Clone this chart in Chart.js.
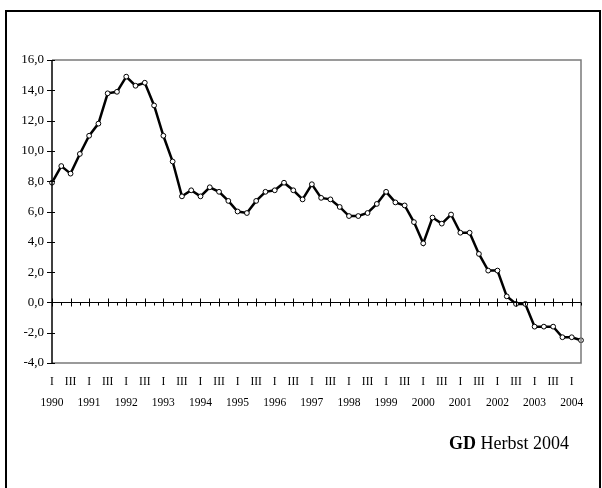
<!DOCTYPE html>
<html>
<head>
<meta charset="utf-8">
<script src="https://cdn.jsdelivr.net/npm/chart.js@4.4.1/dist/chart.umd.min.js"></script>
<style>
  body { margin: 0; width: 602px; height: 488px; overflow: hidden; background: #fff; position: relative; }
  #frame { position: absolute; left: 5px; top: 10px; width: 592px; height: 600px; border: 2px solid #000; }
  #chartBox { position: absolute; left: 0; top: 0; width: 602px; height: 488px; }
  #source { position: absolute; right: 33px; top: 433px; font-family: "Liberation Serif", serif; font-size: 18px; color: #000; }
</style>
</head>
<body>
<div id="frame"></div>
<div id="chartBox"><canvas id="lineChart"></canvas></div>
<div id="source"><b>GD</b> Herbst 2004</div>
<script>
const years = ["1990", "1991", "1992", "1993", "1994", "1995", "1996", "1997",
  "1998", "1999", "2000", "2001", "2002", "2003", "2004"];
const quarterNames = ["I", "", "III", ""];
const values = [
  7.9, 9.0, 8.5, 9.8, 11.0, 11.8, 13.8, 13.9, 14.9, 14.3,
  14.5, 13.0, 11.0, 9.3, 7.0, 7.4, 7.0, 7.6, 7.3, 6.7,
  6.0, 5.9, 6.7, 7.3, 7.4, 7.9, 7.4, 6.8, 7.8, 6.9,
  6.8, 6.3, 5.7, 5.7, 5.9, 6.5, 7.3, 6.6, 6.4, 5.3,
  3.9, 5.6, 5.2, 5.8, 4.6, 4.6, 3.2, 2.1, 2.1, 0.4,
  -0.1, -0.1, -1.6, -1.6, -1.6, -2.3, -2.3, -2.5,
];
const yMin = -4;
const yMax = 16;
const yStep = 2;

const labels = values.map((v, i) => {
  const q = i % 4;
  const year = years[Math.floor(i / 4)];
  return [quarterNames[q], q === 0 ? year : ""];
});

const serif = "'Liberation Serif', 'Times New Roman', serif";

// frame of the plot, the zero line and the little tick marks
const axisDecor = {
  id: "axisDecor",
  afterDatasetsDraw(chart) {
    const { ctx, chartArea: a, scales } = chart;
    const x = scales.x;
    const y = scales.y;
    ctx.save();
    ctx.lineCap = "butt";

    ctx.strokeStyle = "#7a7a7a";
    ctx.lineWidth = 1.5;
    ctx.beginPath();
    ctx.moveTo(a.left, a.top);
    ctx.lineTo(a.right, a.top);
    ctx.lineTo(a.right, a.bottom);
    ctx.lineTo(a.left, a.bottom);
    ctx.stroke();

    ctx.strokeStyle = "#000";
    ctx.lineWidth = 1.5;
    ctx.beginPath();
    ctx.moveTo(a.left, a.top);
    ctx.lineTo(a.left, a.bottom);
    ctx.stroke();

    ctx.lineWidth = 1;
    for (let v = yMin; v <= yMax; v += yStep) {
      const py = Math.round(y.getPixelForValue(v)) + 0.5;
      ctx.beginPath();
      ctx.moveTo(a.left - 5, py);
      ctx.lineTo(a.left + 3, py);
      ctx.stroke();
    }

    const zero = Math.round(y.getPixelForValue(0)) + 0.5;
    ctx.beginPath();
    ctx.moveTo(a.left, zero);
    ctx.lineTo(a.right, zero);
    ctx.stroke();

    labels.forEach((l, i) => {
      const px = Math.round(x.getPixelForValue(i)) + 0.5;
      ctx.beginPath();
      if (i % 2 === 0) {
        ctx.moveTo(px, zero - 4);
        ctx.lineTo(px, zero + 4);
      } else {
        ctx.moveTo(px, zero);
        ctx.lineTo(px, zero + 3);
      }
      ctx.stroke();
    });
    ctx.restore();
  },
};

new Chart(document.getElementById("lineChart"), {
  type: "line",
  data: {
    labels: labels,
    datasets: [
      {
        data: values,
        borderColor: "#000",
        borderWidth: 2.5,
        tension: 0,
        pointRadius: 2.4,
        pointBorderWidth: 1,
        pointBackgroundColor: "#fff",
        pointBorderColor: "#000",
      },
    ],
  },
  plugins: [axisDecor],
  options: {
    responsive: true,
    maintainAspectRatio: false,
    animation: false,
    layout: {
      padding: { left: 0, top: 60, right: 21, bottom: 65 },
    },
    plugins: {
      legend: { display: false },
      tooltip: { enabled: false },
    },
    scales: {
      x: {
        type: "category",
        offset: false,
        grid: { display: false, drawTicks: false },
        border: { display: false },
        afterFit(scale) {
          scale.height = 60;
        },
        ticks: {
          autoSkip: false,
          maxRotation: 0,
          minRotation: 0,
          padding: 9,
          color: "#000",
          font: { family: serif, size: 11.5, lineHeight: 1.8 },
        },
      },
      y: {
        min: yMin,
        max: yMax,
        grid: { display: false, drawTicks: false },
        border: { display: false },
        afterFit(scale) {
          scale.width = 52;
        },
        ticks: {
          stepSize: yStep,
          padding: 8,
          color: "#000",
          font: { family: serif, size: 13 },
          callback(value) {
            return value.toFixed(1).replace(".", ",");
          },
        },
      },
    },
  },
});
</script>
</body>
</html>
